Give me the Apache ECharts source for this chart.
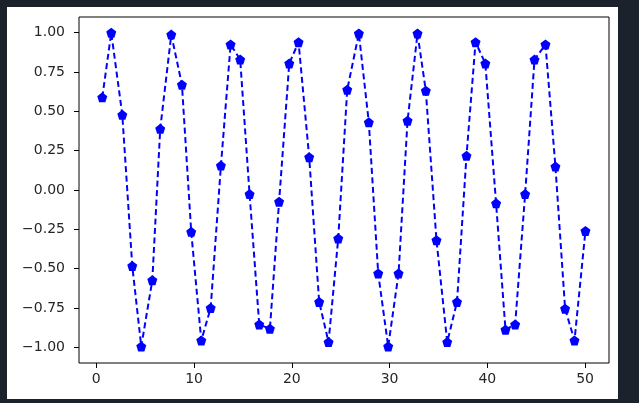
<!DOCTYPE html>
<html>
<head>
<meta charset="utf-8">
<script src="https://cdn.jsdelivr.net/npm/echarts@6/dist/echarts.min.js"></script>
<style>
html,body{margin:0;padding:0;background:#1b222c;}
#c{width:639px;height:403px;}
</style>
</head>
<body>
<div id="c"></div>
<script>
const xs = [0.61, 1.53, 2.66, 3.68, 4.60, 5.73, 6.54, 7.67, 8.76, 9.71,
            10.74, 11.70, 12.75, 13.74, 14.72, 15.68, 16.67, 17.76, 18.70, 19.74,
            20.69, 21.78, 22.80, 23.76, 24.75, 25.67, 26.86, 27.88, 28.84, 29.86,
            30.92, 31.84, 32.86, 33.71, 34.80, 35.90, 36.90, 37.87, 38.80, 39.80,
            40.90, 41.86, 42.85, 43.87, 44.83, 45.95, 46.97, 47.96, 48.92, 50.04];
const ys = [0.589, 1.000, 0.478, -0.483, -0.995, -0.574, 0.389, 0.988, 0.670, -0.266,
            -0.957, -0.750, 0.155, 0.925, 0.829, -0.026, -0.855, -0.882, -0.074, 0.804,
            0.940, 0.208, -0.712, -0.967, -0.308, 0.638, 0.995, 0.430, -0.531, -0.995,
            -0.531, 0.440, 0.995, 0.631, -0.319, -0.967, -0.712, 0.217, 0.940, 0.804,
            -0.085, -0.888, -0.855, -0.026, 0.829, 0.925, 0.149, -0.755, -0.957, -0.260];
const xTicks = [0, 10, 20, 30, 40, 50];
const yTicks = [-1.00, -0.75, -0.50, -0.25, 0.00, 0.25, 0.50, 0.75, 1.00];

const chart = echarts.init(document.getElementById('c'), null, {renderer: 'canvas'});
const font = 'DejaVu Sans';
chart.setOption({
  backgroundColor: '#1b222c',
  animation: false,
  graphic: [{
    type: 'rect', z: -10, silent: true,
    shape: {x: 7, y: 7, width: 611, height: 392},
    style: {fill: '#ffffff'}
  }],
  grid: {
    left: 79, top: 17, right: 30, bottom: 40,
    show: true, borderColor: '#000', borderWidth: 1, backgroundColor: '#ffffff'
  },
  xAxis: {
    type: 'value', min: -1.77, max: 52.45, position: 'bottom',
    splitLine: {show: false},
    axisLine: {show: false, onZero: false},
    axisTick: {show: true, inside: false, length: 5, lineStyle: {color: '#000', width: 1}, customValues: xTicks},
    axisLabel: {customValues: xTicks, color: '#262626', fontFamily: font, fontSize: 14, margin: 9,
      formatter: v => String(v)}
  },
  yAxis: {
    type: 'value', min: -1.1, max: 1.1, position: 'left',
    splitLine: {show: false},
    axisLine: {show: false, onZero: false},
    axisTick: {show: true, inside: false, length: 5, lineStyle: {color: '#000', width: 1}, customValues: yTicks},
    axisLabel: {customValues: yTicks, color: '#262626', fontFamily: font, fontSize: 14, margin: 14,
      formatter: v => (v < 0 ? '\u2212' : '') + Math.abs(v).toFixed(2)}
  },
  series: [{
    type: 'line',
    data: xs.map((x, i) => [x, ys[i]]),
    lineStyle: {color: '#0000ff', width: 2, type: [6, 3.5]},
    itemStyle: {color: '#0000ff', opacity: 1},
    symbol: 'path://M0,-1 L0.951,-0.309 L0.588,0.809 L-0.588,0.809 L-0.951,-0.309 Z',
    symbolSize: 10,
    showAllSymbol: true,
    clip: false
  }]
});
</script>
</body>
</html>
